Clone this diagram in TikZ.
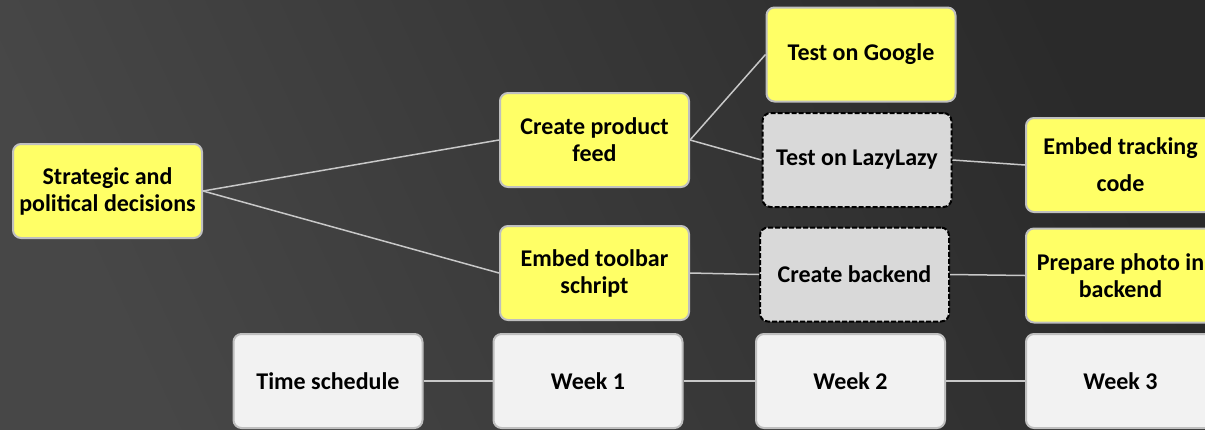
\documentclass[tikz,border=0pt]{standalone}
\usepackage{fontspec}
\setmainfont{Carlito}
\definecolor{bgdark}{HTML}{2A2A2A}
\definecolor{bglight}{HTML}{474747}
\definecolor{boxyellow}{HTML}{FFFF66}
\definecolor{boxgray}{HTML}{D9D9D9}
\definecolor{boxwhite}{HTML}{F2F2F2}
\definecolor{edgegray}{HTML}{BFBFBF}
\definecolor{linkgray}{HTML}{C8C8C8}
\tikzset{
  base/.style={rounded corners=8pt, minimum width=189pt, minimum height=94pt,
    align=center, inner sep=2pt, font=\fontsize{24}{27}\selectfont\bfseries, text=black},
  yellowbox/.style={base, fill=boxyellow, draw=edgegray, line width=2pt},
  grayfbox/.style={base, fill=boxgray, draw=black, line width=2pt, dash pattern=on 5pt off 2pt},
  whitebox/.style={base, fill=boxwhite, draw=edgegray, line width=2pt},
  link/.style={draw=linkgray, line width=1.5pt}
}
\begin{document}
\begin{tikzpicture}[x=1pt,y=-1pt]
\useasboundingbox (0,0) rectangle (1205,429);
\clip (0,0) rectangle (1205,429);
\shade[top color=bgdark, bottom color=bglight, shading angle=-65] (-10,-10) rectangle (1215,439);
% nodes
\node[yellowbox] (strat) at (107.5,191) {Strategic and\\political decisions};
\node[yellowbox] (feed) at (594.5,140) {Create product\\feed};
\node[yellowbox] (toolbar) at (594.5,273) {Embed toolbar\\schript};
\node[yellowbox] (google) at (861,54.5) {Test on Google};
\node[grayfbox] (lazy) at (857,160) {Test on LazyLazy};
\node[grayfbox] (backend) at (854.5,274.5) {Create backend};
\node[yellowbox, font=\fontsize{24}{37}\selectfont\bfseries] (tracking) at (1120.5,165) {Embed tracking\\code};
\node[yellowbox] (photo) at (1120.5,275.5) {Prepare photo in\\backend};
\node[whitebox] (time) at (328,381) {Time schedule};
\node[whitebox] (w1) at (588,381) {Week 1};
\node[whitebox] (w2) at (850.5,381) {Week 2};
\node[whitebox] (w3) at (1120.5,381) {Week 3};
% connectors
\draw[link] (strat.east) -- (feed.west);
\draw[link] (strat.east) -- (toolbar.west);
\draw[link] (feed.east) -- (google.west);
\draw[link] (feed.east) -- (lazy.west);
\draw[link] (lazy.east) -- (tracking.west);
\draw[link] (toolbar.east) -- (backend.west);
\draw[link] (backend.east) -- (photo.west);
\draw[link] (time.east) -- (w1.west);
\draw[link] (w1.east) -- (w2.west);
\draw[link] (w2.east) -- (w3.west);
\end{tikzpicture}
\end{document}
